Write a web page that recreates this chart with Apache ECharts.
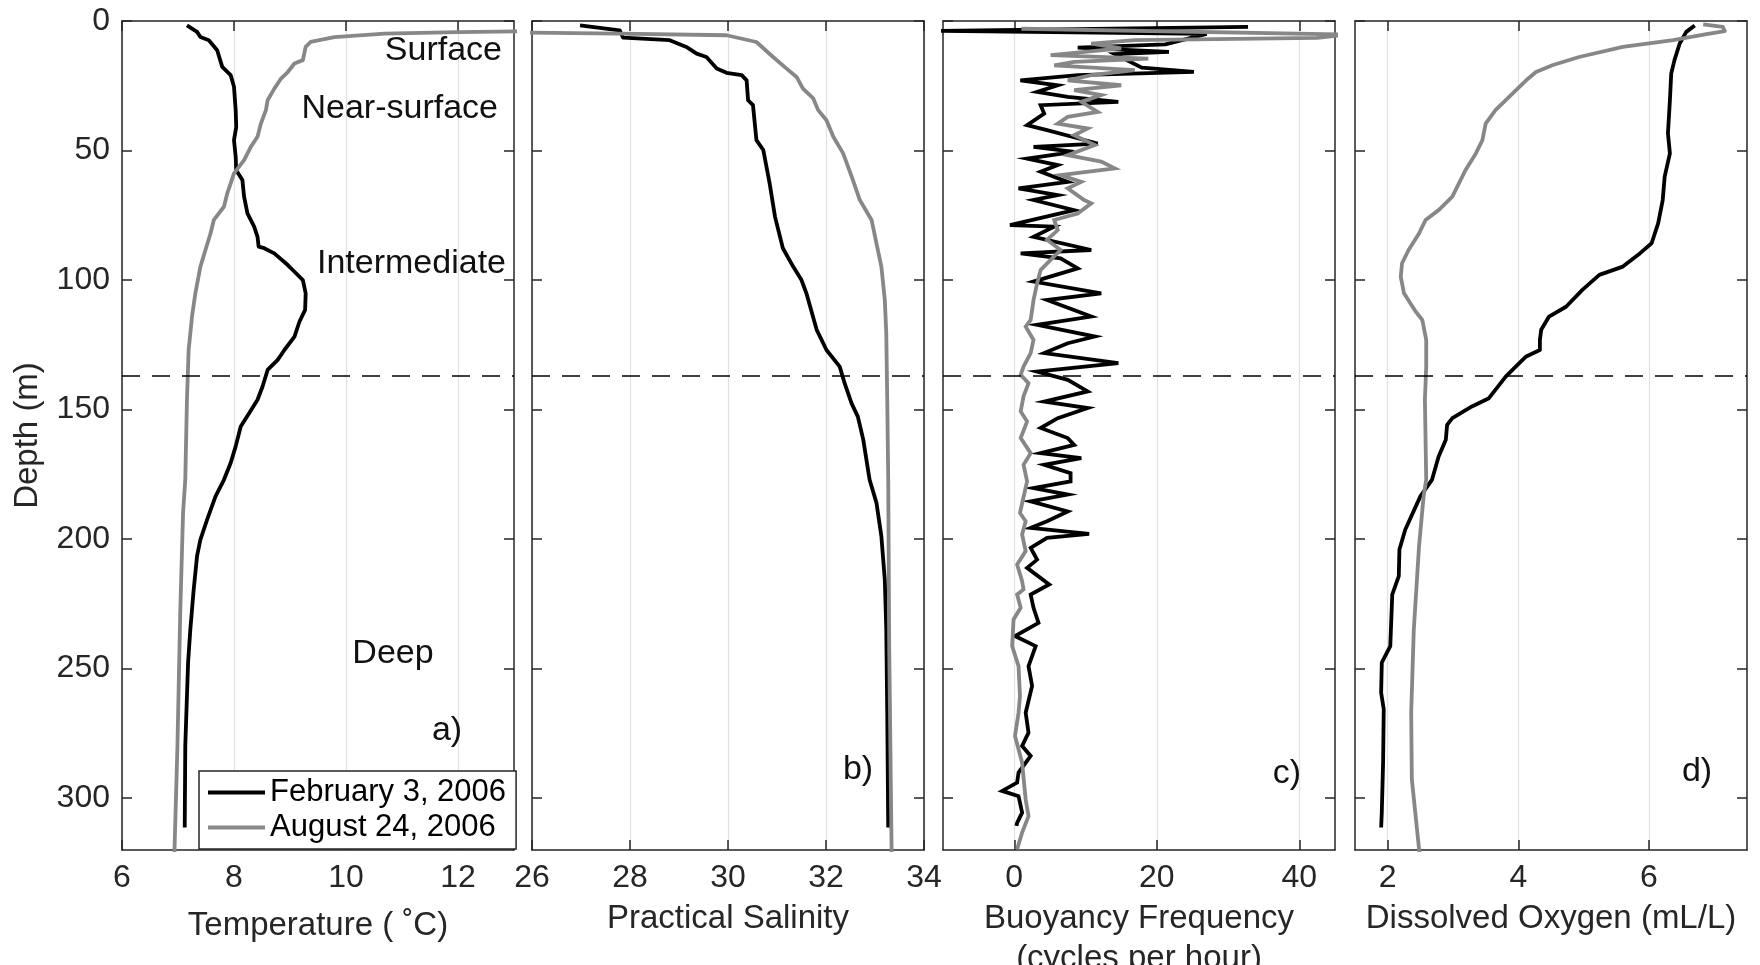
<!DOCTYPE html>
<html><head><meta charset="utf-8">
<script src="https://cdn.jsdelivr.net/npm/echarts@6.0.0/dist/echarts.min.js"></script>
<style>html,body{margin:0;padding:0;background:#fff}#c{width:1760px;height:965px}</style>
</head><body><div id="c"></div>
<script>
// ---------------- DATA ----------------
const seriesNames = ['February 3, 2006', 'August 24, 2006'];
const depthTicks = [0, 50, 100, 150, 200, 250, 300];
const tempTicks = [6, 8, 10, 12];
const salTicks = [26, 28, 30, 32, 34];
const buoyTicks = [0, 20, 40];
const oxyTicks = [2, 4, 6];
const boundaryDepth = 137;

// a) Temperature
const tempFebDepth = [1.7, 4.2, 6.2, 7.4, 11.3, 17.7, 20.9, 25.4, 34.4, 40.9, 46, 52.4, 57.6, 61.4, 67.8, 74.3, 79.4, 83.3, 87.1, 87.7, 89.7, 94.2, 96.8, 100, 105.1, 111.5, 116, 121.8, 127, 130.8, 134.7, 141.1, 146.2, 151.4, 156.5, 164.2, 170.6, 177.1, 183.5, 192.5, 200.2, 206.6, 219.5, 234.9, 247.7, 279.9, 311.3];
const tempFeb = [7.16, 7.34, 7.40, 7.55, 7.70, 7.79, 7.94, 8.00, 8.03, 8.04, 8.00, 8.03, 8.04, 8.15, 8.18, 8.24, 8.36, 8.42, 8.44, 8.54, 8.72, 8.96, 9.08, 9.23, 9.28, 9.27, 9.17, 9.08, 8.90, 8.78, 8.60, 8.51, 8.42, 8.27, 8.12, 8.03, 7.94, 7.82, 7.67, 7.52, 7.40, 7.34, 7.28, 7.22, 7.18, 7.13, 7.12];
const tempAugDepth = [3.5, 4.3, 4.9, 6.2, 8.1, 10.0, 15.1, 16.4, 19.7, 22.2, 26.1, 30.6, 34.4, 39.6, 44.7, 48.6, 53.7, 58.8, 66.5, 71.7, 76.8, 82, 88.4, 94.8, 105.1, 114.1, 127, 146.2, 177, 190, 228.5, 279.9, 322];
const tempAug = [15.0, 12.0, 10.69, 9.79, 9.37, 9.28, 9.23, 9.08, 8.96, 8.84, 8.72, 8.60, 8.57, 8.48, 8.42, 8.30, 8.18, 8.00, 7.88, 7.82, 7.64, 7.58, 7.49, 7.40, 7.31, 7.25, 7.19, 7.16, 7.13, 7.09, 7.04, 6.99, 6.935];

// b) Practical salinity
const salFebDepth = [1.7, 3.6, 6.4, 7.4, 10.0, 12.6, 13.9, 18.3, 20.0, 20.9, 22.9, 30.6, 32.5, 46, 49.8, 62.7, 75.6, 87.7, 94.8, 100, 105.1, 119.2, 127, 133.4, 139.8, 147.5, 152.7, 161.6, 177.1, 186, 198.9, 215.6, 234.9, 267, 311.3];
const salFeb = [26.98, 27.79, 27.86, 28.81, 29.15, 29.36, 29.56, 29.77, 29.97, 30.28, 30.38, 30.41, 30.51, 30.58, 30.72, 30.85, 30.96, 31.12, 31.33, 31.50, 31.60, 31.81, 32.01, 32.28, 32.38, 32.52, 32.65, 32.76, 32.89, 33.03, 33.13, 33.20, 33.23, 33.25, 33.27];
const salAugDepth = [4.3, 4.9, 5.5, 8.1, 13.9, 18.3, 21.6, 26.1, 29.9, 34.4, 38.3, 44.7, 51.1, 61.4, 69.1, 76.8, 85.8, 94.8, 107.7, 120.5, 146.2, 177, 241.3, 322];
const salAug = [25.0, 27.79, 29.97, 30.58, 30.92, 31.19, 31.40, 31.53, 31.74, 31.84, 32.01, 32.15, 32.35, 32.55, 32.69, 32.93, 33.03, 33.13, 33.20, 33.23, 33.25, 33.27, 33.29, 33.34];

// c) Buoyancy frequency (cycles per hour)
const buoyFebDepth = [2.3, 3.8, 5.0, 9.0, 10.3, 11.9, 12.8, 18.0, 19.6, 20.9, 22.9, 24.8, 27.4, 29.3, 31.2, 32.5, 35.7, 40.2, 42.1, 47.3, 48.6, 50.5, 53.1, 55.6, 58.2, 62.1, 64.6, 67.2, 69.1, 73.0, 78.8, 79.4, 83.3, 88.4, 89.7, 91.6, 95.5, 100.6, 105.1, 107.7, 114.1, 117.3, 121.8, 124.4, 128.2, 132.1, 135.3, 138.5, 143.0, 146.9, 149.4, 153.3, 157.1, 161.0, 163.6, 166.8, 168.7, 171.3, 174.5, 177.7, 180.3, 182.8, 185.4, 189.3, 193.1, 195.7, 198.0, 199.5, 203.4, 207.9, 211.1, 217.5, 221.4, 226.5, 232.3, 237.4, 241.3, 249.0, 256.7, 267.0, 274.7, 279.8, 283.7, 290.1, 294.0, 297.2, 299.2, 305.6, 309.5, 310.7];
const buoyFeb = [32.8, -11, 27, 21.2, 8.9, 21.7, 14.1, 17.9, 25.2, 8.9, 0.85, 6.1, 3.2, 7.5, 14.6, 3.7, 4.2, 1.8, 4.6, 11.7, 2.7, 8.4, 1.8, 6.1, 3.7, 7.5, 0.6, 6.1, 2.7, 8.4, -0.6, 5.6, 2.7, 10.8, 0.9, 6.5, 8.9, 2.7, 12.2, 4.6, 10.8, 3.2, 11.3, 7.5, 4.2, 14.6, 3.2, 7.5, 10.3, 4.2, 10.3, 6.1, 3.7, 7.5, 8.4, 3.7, 9.4, 4.2, 7.9, 7.9, 2.7, 7.5, 2.3, 7.5, 4.6, 2.3, 10.5, 4.6, 2.3, 3.2, 1.8, 4.9, 2.3, 2.7, 3.4, 0.1, 3.0, 2.0, 2.5, 1.6, 2.0, 1.1, 2.3, 0.6, 0.4, -1.7, 0.6, 1.1, 0.4, 0.3];
const buoyAugDepth = [3.0, 5.2, 6.5, 7.4, 8.7, 10.6, 13.2, 14.5, 15.8, 17.1, 19.0, 20.9, 22.9, 24.8, 26.7, 28.6, 31.2, 35.1, 37.0, 39.6, 41.5, 44.1, 47.9, 51.8, 54.3, 56.9, 59.5, 62.1, 64.6, 69.1, 70.4, 74.3, 76.8, 80.7, 84.5, 88.4, 92.2, 96.1, 101.3, 107.7, 115.4, 118.0, 123.1, 128.2, 133.4, 136.6, 139.8, 144.9, 150.7, 154.6, 161.0, 166.8, 171.3, 177.7, 189.9, 193.1, 198.2, 204.6, 209.8, 216.2, 219.4, 221.4, 226.5, 231, 241.3, 249, 260.6, 267, 276, 286.3, 300.5, 306.9, 313.3, 319.7];
const buoyAug = [1.0, 47, 42.5, 16.9, 10.8, 15.0, 5.1, 18.8, 8.4, 5.6, 16.9, 10.8, 7.5, 15.0, 8.4, 12.2, 9.4, 11.7, 7.5, 6.1, 10.3, 8.4, 11.3, 7.5, 12.2, 14.1, 6.5, 9.4, 7.5, 9.8, 10.8, 8.9, 5.6, 6.1, 4.6, 6.5, 5.1, 3.7, 3.2, 2.7, 2.3, 1.6, 2.7, 2.3, 1.3, 0.9, 2.0, 1.3, 0.9, 1.8, 0.9, 2.3, 1.3, 1.8, 0.8, 1.6, 1.1, 1.6, 0.4, 1.1, 1.3, 0.4, 0.9, -0.1, -0.3, 0.6, 0.8, 0.6, 0.1, 1.1, 1.6, 2.0, 1.1, 0.4];

// d) Dissolved oxygen (mL/L)
const oxyFebDepth = [1.7, 4.2, 8.7, 15.1, 20.3, 30.6, 43.4, 51.1, 60.1, 69.1, 78.1, 85.8, 89.7, 94.8, 98, 103.8, 110.3, 114.1, 119.2, 123.1, 127, 129.5, 133.4, 137.2, 145.6, 148.8, 153.3, 155.9, 161.6, 168.1, 177, 183.5, 196.3, 204, 214.3, 221.4, 241.3, 247.7, 259.3, 265.7, 286.2, 305.5, 311.3];
const oxyFeb = [6.70, 6.57, 6.47, 6.39, 6.34, 6.32, 6.29, 6.32, 6.24, 6.21, 6.14, 6.04, 5.86, 5.60, 5.24, 4.98, 4.73, 4.47, 4.35, 4.33, 4.33, 4.12, 3.96, 3.81, 3.55, 3.29, 2.99, 2.91, 2.89, 2.78, 2.68, 2.50, 2.27, 2.18, 2.17, 2.07, 2.04, 1.91, 1.90, 1.94, 1.93, 1.91, 1.90];
const oxyAugDepth = [1.3, 2.3, 3.9, 5.1, 7.4, 10.0, 13.9, 17.1, 19.7, 22.9, 28, 34.4, 39.6, 46, 51.1, 57.6, 67.8, 73, 76.8, 82, 88.4, 93.5, 98.7, 105.1, 112.2, 115.4, 123.1, 133.4, 146.2, 177, 183.5, 202.8, 234.9, 267, 292.7, 322];
const oxyAug = [6.83, 7.13, 7.16, 6.88, 6.37, 5.60, 4.93, 4.52, 4.27, 4.12, 3.91, 3.65, 3.50, 3.45, 3.35, 3.19, 2.99, 2.78, 2.58, 2.48, 2.32, 2.22, 2.20, 2.25, 2.43, 2.53, 2.59, 2.59, 2.57, 2.59, 2.55, 2.48, 2.40, 2.36, 2.37, 2.49];

// ---------------- LAYOUT / STYLE ----------------
const FONT = '"Liberation Sans", Arial, Helvetica, sans-serif';
const AX = '#262626';
const COLORS = ['#000000', '#878787'];
const zip = (v, d) => v.map((x, i) => [x, d[i]]);

const panels = [
  { left: 122, min: 6, max: 13, ticks: tempTicks, name: 'Temperature ( ˚C)', nameGap: 56,
    data: [zip(tempFeb, tempFebDepth), zip(tempAug, tempAugDepth)], join: 'round' },
  { left: 532, min: 26, max: 34, ticks: salTicks, name: 'Practical Salinity', nameGap: 27,
    data: [zip(salFeb, salFebDepth), zip(salAug, salAugDepth)], join: 'round' },
  { left: 943, min: -10, max: 45, ticks: buoyTicks, name: 'Buoyancy Frequency\n(cycles per hour)', nameGap: 27,
    data: [zip(buoyFeb, buoyFebDepth), zip(buoyAug, buoyAugDepth)], join: 'miter' },
  { left: 1355, min: 1.5, max: 7.5, ticks: oxyTicks, name: 'Dissolved Oxygen (mL/L)', nameGap: 27,
    data: [zip(oxyFeb, oxyFebDepth), zip(oxyAug, oxyAugDepth)], join: 'round' }
];

const grids = [], xAxes = [], yAxes = [], series = [];
panels.forEach((p, i) => {
  grids.push({ left: p.left, top: 21, width: 392, height: 829, containLabel: false, outerBoundsMode: 'none' });
  const lineCommon = { show: true, onZero: false, lineStyle: { color: AX, width: 1.5 } };
  xAxes.push({
    type: 'value', gridIndex: i, position: 'bottom', min: p.min, max: p.max,
    axisLine: lineCommon,
    axisTick: { show: true, inside: true, length: 10, customValues: p.ticks, lineStyle: { color: AX, width: 1.5 } },
    axisLabel: { show: true, customValues: p.ticks, margin: 12, fontSize: 32, fontFamily: FONT, color: AX },
    splitLine: { show: true, lineStyle: { color: '#e2e2e2', width: 1.2 } },
    name: p.name, nameLocation: 'middle', nameGap: p.nameGap,
    nameTextStyle: { fontSize: 33, fontFamily: FONT, color: AX, lineHeight: 40, verticalAlign: 'top' }
  });
  xAxes.push({
    type: 'value', gridIndex: i, position: 'top', min: p.min, max: p.max,
    axisLine: lineCommon,
    axisTick: { show: true, inside: true, length: 10, customValues: p.ticks, lineStyle: { color: AX, width: 1.5 } },
    axisLabel: { show: false }, splitLine: { show: false }
  });
  yAxes.push({
    type: 'value', gridIndex: i, position: 'left', inverse: true, min: 0, max: 320,
    axisLine: lineCommon,
    axisTick: { show: true, inside: true, length: 10, customValues: depthTicks, lineStyle: { color: AX, width: 1.5 } },
    axisLabel: { show: i === 0, customValues: depthTicks, margin: 12, fontSize: 32, fontFamily: FONT, color: AX },
    splitLine: { show: false },
    name: i === 0 ? 'Depth (m)' : '', nameLocation: 'middle', nameGap: 78,
    nameTextStyle: { fontSize: 33, fontFamily: FONT, color: AX }
  });
  yAxes.push({
    type: 'value', gridIndex: i, position: 'right', inverse: true, min: 0, max: 320,
    axisLine: lineCommon,
    axisTick: { show: true, inside: true, length: 10, customValues: depthTicks, lineStyle: { color: AX, width: 1.5 } },
    axisLabel: { show: false }, splitLine: { show: false }
  });
  p.data.forEach((d, k) => {
    const s = {
      type: 'line', name: seriesNames[k], xAxisIndex: 2 * i, yAxisIndex: 2 * i,
      data: d, symbol: 'none', showSymbol: false, clip: true, z: 3 + k,
      lineStyle: { color: COLORS[k], width: 3.8, join: p.join, miterLimit: 6 },
      itemStyle: { color: COLORS[k] },
      emphasis: { disabled: true }
    };
    if (k === 1) {
      s.markLine = {
        silent: true, symbol: ['none', 'none'], label: { show: false },
        lineStyle: { color: '#000', width: 1.6, type: [18, 12] },
        emphasis: { disabled: true },
        data: [{ yAxis: boundaryDepth }]
      };
    }
    series.push(s);
  });
});

const txt = (text, x, y, align) => ({
  type: 'text', x: x, y: y, z: 10,
  style: { text: text, textAlign: align, textVerticalAlign: 'middle', font: '34px ' + FONT, fill: '#111' }
});

const option = {
  animation: false,
  backgroundColor: '#fff',
  grid: grids, xAxis: xAxes, yAxis: yAxes, series: series,
  legend: {
    data: seriesNames, orient: 'vertical', left: 199, top: 771,
    icon: 'rect', itemWidth: 57, itemHeight: 4, itemGap: 4,
    padding: [6, 10, 6, 9], borderColor: AX, borderWidth: 1.5, backgroundColor: '#fff',
    selectedMode: false,
    textStyle: { fontSize: 31, fontFamily: FONT, color: '#000', lineHeight: 31 }
  },
  graphic: [
    txt('Surface', 502, 51, 'right'),
    txt('Near-surface', 498, 109, 'right'),
    txt('Intermediate', 506, 264, 'right'),
    txt('Deep', 393, 654, 'center'),
    txt('a)', 447, 731, 'center'),
    txt('b)', 858, 770, 'center'),
    txt('c)', 1287, 774, 'center'),
    txt('d)', 1697, 772, 'center')
  ]
};

const chart = echarts.init(document.getElementById('c'), null, { renderer: 'canvas' });
chart.setOption(option);
</script></body></html>
